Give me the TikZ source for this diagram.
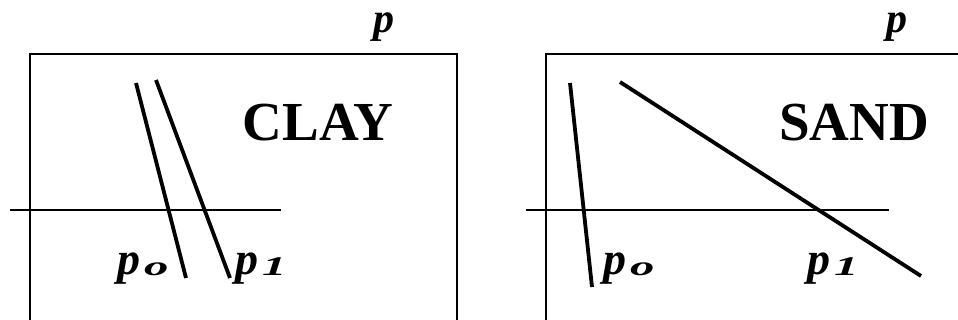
\documentclass[tikz,border=0pt]{standalone}
\usepackage{fontspec}
\setmainfont{Liberation Serif}
\usetikzlibrary{positioning}

\newcommand{\soiltext}[1]{{\fontsize{55}{55}\selectfont\bfseries #1}}
\newcommand{\ptext}[1]{{\fontsize{46}{46}\selectfont\bfseries\itshape p\hspace{4pt}%
\raisebox{-1pt}{\scalebox{1.8}[1]{\fontsize{27}{27}\selectfont #1}}}}

\begin{document}
\begin{tikzpicture}[x=1pt,y=-1pt,
		frame/.style={line width=1.6pt},
		slope/.style={line width=3.8pt},
		lab/.style={inner sep=0pt,anchor=base west}]
				\useasboundingbox (0,0) rectangle (958,320);

				% the two boxes and their axes
				\draw[frame] (30,320)--(30,54)--(457,54)--(457,320);
				\draw[frame] (546,320)--(546,54)--(958,54);

				\foreach \xa/\xb/\side in {10/281/c,526/889/s}
				{
					\coordinate (a\side1) at (\xa,210);
					\coordinate (a\side2) at (\xb,210);
					\draw[frame] (a\side1)--(a\side2);
				}

				% clay lines
				\coordinate (c0t) at (136,83);
				\coordinate (c0b) at (186,278);
				\coordinate (c1t) at (156,80);
				\coordinate (c1b) at (230,278);
				\draw[slope] (c0t)--(c0b);
				\draw[slope] (c1t)--(c1b);

				% sand lines
				\coordinate (s0t) at (570,83);
				\coordinate (s0b) at (592,287);
				\coordinate (s1t) at (620,82);
				\coordinate (s1b) at (921,276);
				\draw[slope] (s0t)--(s0b);
				\draw[slope] (s1t)--(s1b);

				% texts
				\node[inner sep=0pt,anchor=base] (clay) at (318,141) {\soiltext{CLAY}};
				\node[inner sep=0pt,anchor=base] (sand) at (854,141) {\soiltext{SAND}};
				\node[inner sep=0pt,anchor=base,text height=20pt] (pc) at (384,33)
				{\fontsize{42}{42}\selectfont\bfseries\itshape p};
				\node[inner sep=0pt,anchor=base,text height=20pt] (ps) at (897,33)
				{\fontsize{42}{42}\selectfont\bfseries\itshape p};

				\node[lab] (pc0) at (117,275) {\ptext{o}};
				\node[lab] (pc1) at (235,275) {\ptext{1}};
				\node[lab] (ps0) at (603,275) {\ptext{o}};
				\node[lab] (ps1) at (807,275) {\ptext{1}};
\end{tikzpicture}
\end{document}
